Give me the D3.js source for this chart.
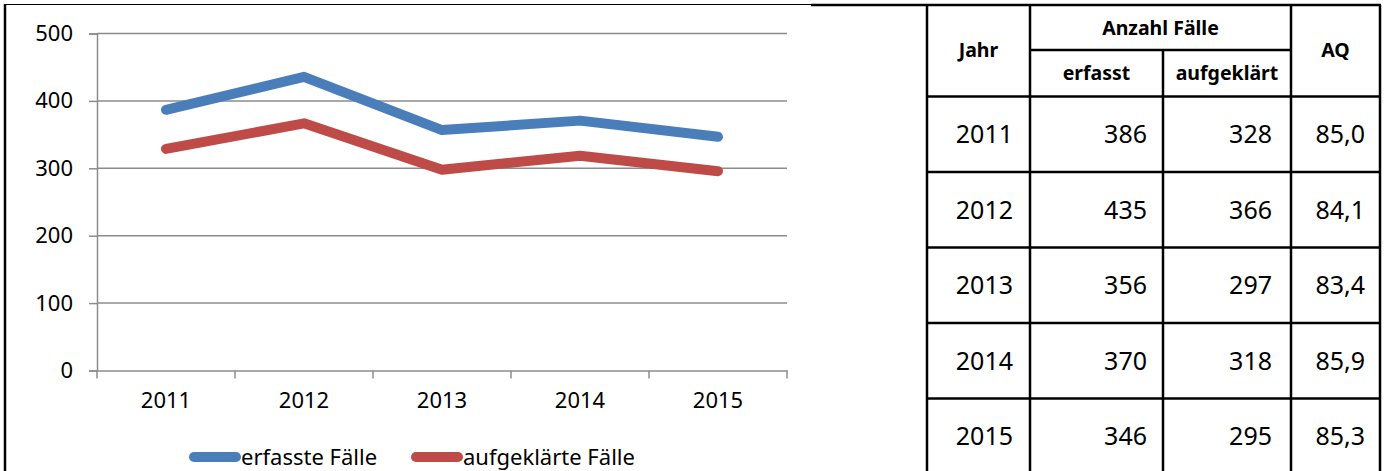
<!DOCTYPE html>
<html>
<head>
<meta charset="utf-8">
<script src="https://cdn.jsdelivr.net/npm/d3@7"></script>
<style>
  body { margin: 0; background: #fff; }
  svg { display: block; font-family: "Noto Sans", sans-serif; }
</style>
</head>
<body>
<div id="main"></div>
<script>
// data
const years = ["2011", "2012", "2013", "2014", "2015"];
const erfasst = [386, 435, 356, 370, 346];
const aufgeklaert = [328, 366, 297, 318, 295];
const aq = ["85,0", "84,1", "83,4", "85,9", "85,3"];
const yTicks = [0, 100, 200, 300, 400, 500];
const seriesNames = ["erfasste Fälle", "aufgeklärte Fälle"];
const seriesColors = ["#4a7ebb", "#be4b48"];

const width = 1387, height = 471;

const svg = d3.select("#main").append("svg")
  .attr("width", width)
  .attr("height", height);

// frame
svg.append("line").attr("x1", 5).attr("x2", 811).attr("y1", 4.5).attr("y2", 4.5)
  .attr("stroke", "#000").attr("stroke-width", 1.2);
svg.append("line").attr("x1", 5).attr("x2", 5).attr("y1", 4).attr("y2", height)
  .attr("stroke", "#000").attr("stroke-width", 2.5);

// chart scales
const x = d3.scaleBand().domain(years).range([97, 787]);
const y = d3.scaleLinear().domain([0, 500]).range([370, 33]);

// gridlines
svg.append("g").selectAll("line").data(yTicks.filter(d => d > 0))
  .enter().append("line")
  .attr("x1", 97).attr("x2", 787)
  .attr("y1", d => y(d) + 0.5).attr("y2", d => y(d) + 0.5)
  .attr("stroke", "#8c8c8c").attr("stroke-width", 1.5);

// y axis
const yAxis = svg.append("g")
  .attr("transform", "translate(97,0.5)")
  .call(d3.axisLeft(y).tickValues(yTicks).tickSize(8).tickPadding(16));
yAxis.select(".domain").attr("stroke", "#8c8c8c").attr("stroke-width", 1.5);
yAxis.selectAll(".tick line").attr("stroke", "#8c8c8c").attr("stroke-width", 1.5);
yAxis.selectAll(".tick text")
  .attr("font-size", 22).attr("font-family", "Noto Sans").attr("fill", "#000");

// x axis
const xAxis = svg.append("g")
  .attr("transform", "translate(0,370.5)")
  .call(d3.axisBottom(x).tickSize(0).tickPadding(22).tickSizeOuter(0));
xAxis.select(".domain").attr("stroke", "#8c8c8c").attr("stroke-width", 1.5);
xAxis.selectAll(".tick text")
  .attr("font-size", 22).attr("font-family", "Noto Sans").attr("fill", "#000");
// boundary ticks between categories
const edges = years.map(d => x(d)).concat([x.range()[1]]);
xAxis.selectAll(".edge").data(edges).enter().append("line")
  .attr("class", "edge")
  .attr("x1", d => d).attr("x2", d => d)
  .attr("y1", 0).attr("y2", 8)
  .attr("stroke", "#8c8c8c").attr("stroke-width", 1.5);

// lines
const line = d3.line()
  .x((d, i) => x(years[i]) + x.bandwidth() / 2)
  .y(d => y(d));

[erfasst, aufgeklaert].forEach((series, k) => {
  svg.append("path")
    .datum(series)
    .attr("d", line)
    .attr("fill", "none")
    .attr("stroke", seriesColors[k])
    .attr("stroke-width", 10)
    .attr("stroke-linecap", "round")
    .attr("stroke-linejoin", "round");
});

// legend
const legendX = [190, 412];
seriesNames.forEach((name, k) => {
  const g = svg.append("g").attr("transform", "translate(" + legendX[k] + ",457)");
  g.append("line")
    .attr("x1", 4).attr("x2", 46).attr("y1", 0).attr("y2", 0)
    .attr("stroke", seriesColors[k]).attr("stroke-width", 10)
    .attr("stroke-linecap", "round");
  g.append("text")
    .attr("x", 51).attr("y", 8)
    .attr("font-size", 22)
    .text(name);
});

// table
const colX = [927, 1030, 1163, 1291, 1380];
const headTop = 5, headMid = 50, headBottom = 96.5, rowH = 75.5;

const table = svg.append("g");
// top outer line
table.append("line").attr("x1", 811).attr("x2", 1381).attr("y1", headTop).attr("y2", headTop)
  .attr("stroke", "#000").attr("stroke-width", 2.5);
// vertical lines
table.selectAll(".vline").data(colX).enter().append("line")
  .attr("class", "vline")
  .attr("x1", d => d).attr("x2", d => d)
  .attr("y1", (d, i) => (i === 2 ? headMid : headTop))
  .attr("y2", height)
  .attr("stroke", "#000").attr("stroke-width", 2.5);
// header middle line
table.append("line").attr("x1", colX[1]).attr("x2", colX[3]).attr("y1", headMid).attr("y2", headMid)
  .attr("stroke", "#000").attr("stroke-width", 2.5);
// row lines
const rowLines = d3.range(years.length).map(i => headBottom + i * rowH);
table.selectAll(".hline").data(rowLines).enter().append("line")
  .attr("class", "hline")
  .attr("x1", colX[0]).attr("x2", colX[4])
  .attr("y1", d => d).attr("y2", d => d)
  .attr("stroke", "#000").attr("stroke-width", 2.5);

// header text
const head = [
  { t: "Jahr", x: (colX[0] + colX[1]) / 2, y: 50 },
  { t: "Anzahl Fälle", x: (colX[1] + colX[3]) / 2, y: 28 },
  { t: "erfasst", x: (colX[1] + colX[2]) / 2, y: 73 },
  { t: "aufgeklärt", x: (colX[2] + colX[3]) / 2, y: 73 },
  { t: "AQ", x: (colX[3] + colX[4]) / 2, y: 50 }
];
table.selectAll(".head").data(head).enter().append("text")
  .attr("class", "head")
  .attr("x", d => d.x).attr("y", d => d.y)
  .attr("dy", "0.35em")
  .attr("text-anchor", "middle")
  .attr("font-size", 19.5).attr("font-weight", "bold")
  .text(d => d.t);

// body text
const rightPad = [17, 16, 19, 15];
years.forEach((yr, i) => {
  const cy = headBottom + i * rowH + rowH / 2;
  [yr, erfasst[i], aufgeklaert[i], aq[i]].forEach((v, c) => {
    table.append("text")
      .attr("x", colX[c + 1] - rightPad[c])
      .attr("y", cy)
      .attr("dy", "0.35em")
      .attr("text-anchor", "end")
      .attr("font-size", 25)
      .text(v);
  });
});
</script>
</body>
</html>
